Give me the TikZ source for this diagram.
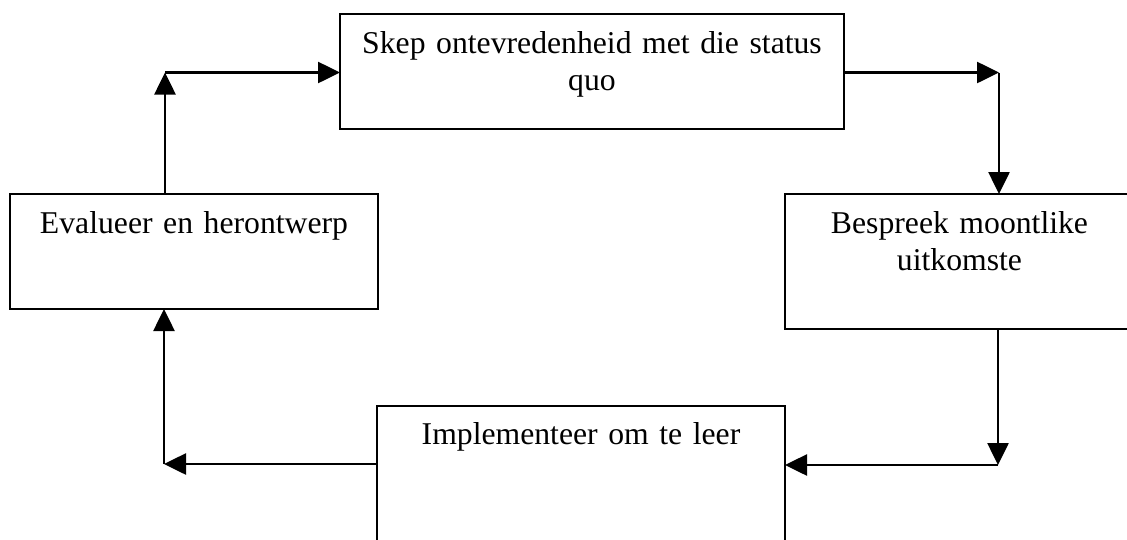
\documentclass[tikz,border=0pt]{standalone}
\usepackage{fontspec}
\setmainfont{Liberation Serif}
\usetikzlibrary{arrows.meta,fit}
\begin{document}
\begin{tikzpicture}[x=1pt,y=-1pt,
  box/.style={draw,line width=2.6pt,inner sep=0pt,outer sep=0pt},
  lbl/.style={anchor=base,align=center,inner sep=0pt,
    font=\fontsize{31.7}{37.5}\selectfont},
  arr/.style={line width=2.6pt,-{Triangle[length=22pt,width=21pt]}}]
\useasboundingbox (0,0) rectangle (1127,539);
\clip (0,0) rectangle (1127,539);

% the four stages of the cycle
\node (top)    [box, fit={(340,14) (844,129)}] {};
\node (left)   [box, fit={(10,194) (378,309)}] {};
\node (right)  [box, fit={(785,194) (1134,329)}] {};
\node (bottom) [box, fit={(377,406) (785,600)}] {};

\node (toptext) [lbl, text width=480pt] at ([yshift=-39pt]top.north)
  {Skep ontevredenheid met die status\\quo};
\node (lefttext) [lbl, text width=340pt] at ([yshift=-39pt]left.north)
  {Evalueer en herontwerp};
\node (righttext) [lbl, text width=320pt] at ([yshift=-39pt]right.north)
  {Bespreek moontlike\\uitkomste};
\node (bottomtext) [lbl, text width=380pt] at ([yshift=-38pt]bottom.north)
  {Implementeer om te leer};

% elbow connectors, each leg ending in a solid head
\coordinate (c1) at (165,72.5);
\draw[arr] (c1 |- left.north) -- (c1);
\draw[arr] (c1) -- (top.west |- c1);

\coordinate (c2) at (999,72.5);
\draw[arr] (top.east |- c2) -- (c2);
\draw[arr] (c2) -- (c2 |- right.north);

\coordinate (c3) at (998,465);
\draw[arr] (c3 |- right.south) -- (c3);
\draw[arr] (c3) -- (bottom.east |- c3);

\coordinate (c4) at (164,464);
\draw[arr] (bottom.west |- c4) -- (c4);
\draw[arr] (c4) -- (c4 |- left.south);
\end{tikzpicture}
\end{document}
